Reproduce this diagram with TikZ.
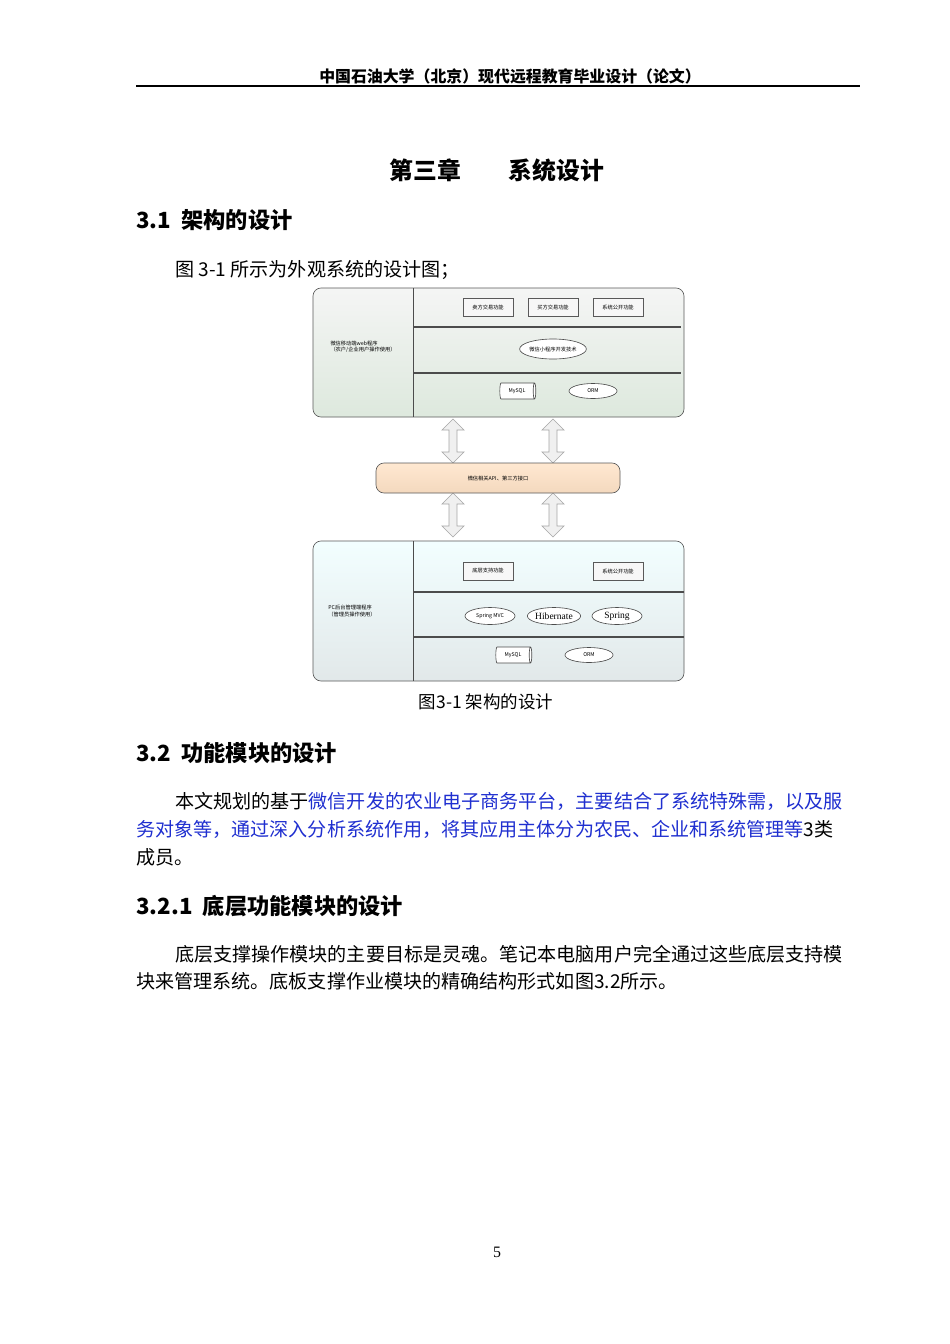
\documentclass[tikz,border=0pt]{standalone}
\usepackage{fontspec}
\setmainfont{Liberation Serif}
\newfontfamily\cjk{Noto Sans CJK SC}
\usetikzlibrary{shapes.geometric,shapes.arrows}
\definecolor{blu}{HTML}{1F2FD0}
\begin{document}
\begin{tikzpicture}[x=0.2211mm,y=-0.2211mm,
  tiny/.style={font=\cjk\fontsize{3.3}{4}\selectfont},
  fbox/.style={draw=gray!70!black,fill=gray!6,minimum width=50*0.2211mm,minimum height=18*0.2211mm,tiny,drop shadow/.try},
  ell/.style={ellipse,draw=gray!60!black,fill=white,tiny,inner sep=0pt},
  cyl/.style={cylinder,draw=gray!60!black,fill=white,tiny,minimum width=16*0.2211mm,minimum height=36*0.2211mm,inner sep=0pt,aspect=0.5},
  darr/.style={double arrow,draw=gray!70,fill=gray!12,rotate=90,minimum height=44*0.2211mm,minimum width=22*0.2211mm,double arrow head extend=5*0.2211mm,inner sep=2.5*0.2211mm},
  body/.style={anchor=west,font=\cjk\fontsize{12}{14}\selectfont,inner sep=0pt},
  head/.style={anchor=west,font=\cjk\bfseries\fontsize{14}{16}\selectfont,inner sep=0pt}]
\useasboundingbox[fill=white] (0,0) rectangle (950,1344);
% header
\node[font=\cjk\bfseries\fontsize{10}{12}\selectfont] (hdr) at (510,76) {中国石油大学（北京）现代远程教育毕业设计（论文）};
\coordinate (hl) at (136,86); \coordinate (hr) at (860,86);
\draw[line width=1pt] (hl) -- (hr);
\node[font=\cjk\bfseries\fontsize{15}{18}\selectfont] (title) at (497,170) {第三章\quad\quad 系统设计};
\node[head] (s31) at (136,220) {3.1\ \ 架构的设计};
\node[body] (p0) at (175,270) {图 3-1 所示为外观系统的设计图；};
% top box
\node[draw=gray!70!black,rounded corners=8*0.2211mm,top color=green!3!gray!8,bottom color=green!20!gray!22,minimum width=371*0.2211mm,minimum height=129*0.2211mm] (top) at (498.5,352.5) {};
\coordinate (t1) at (413,288); \coordinate (t2) at (413,417);
\draw[gray!60!black] (t1) -- (t2);
\coordinate (t3) at (413,327); \coordinate (t4) at (681,327);
\coordinate (t5) at (413,373); \coordinate (t6) at (681,373);
\draw[gray!60!black,thick] (t3) -- (t4) (t5) -- (t6);
\node[tiny,align=left] (tl) at (363,347) {微信移动端web程序\\（农户/企业用户操作使用）};
\node[fbox] (b1) at (488,307) {卖方交易功能};
\node[fbox] (b2) at (553,307) {买方交易功能};
\node[fbox] (b3) at (618,307) {系统公开功能};
\node[ell,minimum width=66*0.2211mm,minimum height=20*0.2211mm] (e1) at (553,349) {微信小程序开发技术};
\node[cyl] (c1) at (517,391) {MySQL};
\node[ell,minimum width=48*0.2211mm,minimum height=15*0.2211mm] (o1) at (593,391) {ORM};
% arrows
\node[darr] (a1) at (453,441) {};
\node[darr] (a2) at (553,441) {};
\node[darr] (a3) at (453,515) {};
\node[darr] (a4) at (553,515) {};
% middle
\node[draw=gray!70!black,rounded corners=8*0.2211mm,top color=orange!18,bottom color=orange!40!brown!30,minimum width=244*0.2211mm,minimum height=30*0.2211mm,tiny] (mid) at (498,478) {微信相关API、第三方接口};
% bottom box
\node[draw=gray!70!black,rounded corners=8*0.2211mm,top color=blue!4!cyan!5,bottom color=blue!15!cyan!15!gray!20,minimum width=371*0.2211mm,minimum height=140*0.2211mm] (bot) at (498.5,611) {};
\coordinate (u1) at (413,541); \coordinate (u2) at (413,681);
\draw[gray!60!black] (u1) -- (u2);
\coordinate (u3) at (413,592); \coordinate (u4) at (684,592);
\coordinate (u5) at (413,637); \coordinate (u6) at (684,637);
\draw[gray!60!black,thick] (u3) -- (u4) (u5) -- (u6);
\node[tiny,align=left] (bl) at (352,611) {PC后台管理端程序\\（管理员操作使用）};
\node[fbox] (b4) at (488,571) {底层支持功能};
\node[fbox] (b5) at (618,571) {系统公开功能};
\node[ell,minimum width=50*0.2211mm,minimum height=17*0.2211mm] (e2) at (490,616) {Spring MVC};
\node[ell,minimum width=52*0.2211mm,minimum height=17*0.2211mm,font=\fontsize{6}{7}\selectfont] (e3) at (554,616) {Hibernate};
\node[ell,minimum width=50*0.2211mm,minimum height=17*0.2211mm,font=\fontsize{6}{7}\selectfont] (e4) at (617,616) {Spring};
\node[cyl] (c2) at (513,655) {MySQL};
\node[ell,minimum width=48*0.2211mm,minimum height=15*0.2211mm] (o2) at (589,655) {ORM};
\node[font=\cjk\fontsize{11}{13}\selectfont] (cap) at (486,702) {图3-1 架构的设计};
% section 3.2
\node[head] (s32) at (136,753) {3.2\ \ 功能模块的设计};
\node[body] (l1) at (175,801) {本文规划的基于\textcolor{blu}{微信开发的农业电子商务平台，主要结合了系统特殊需，以及服}};
\node[body] (l2) at (136,829) {\textcolor{blu}{务对象等，通过深入分析系统作用，将其应用主体分为农民、企业和系统管理等}3类};
\node[body] (l3) at (136,857) {成员。};
\node[head] (s321) at (136,906) {3.2.1\ \ 底层功能模块的设计};
\node[body] (l4) at (175,954) {底层支撑操作模块的主要目标是灵魂。笔记本电脑用户完全通过这些底层支持模};
\node[body] (l5) at (136,981) {块来管理系统。底板支撑作业模块的精确结构形式如图3.2所示。};
\node[font=\fontsize{10}{12}\selectfont] (pg) at (497,1252) {5};
\end{tikzpicture}
\end{document}
